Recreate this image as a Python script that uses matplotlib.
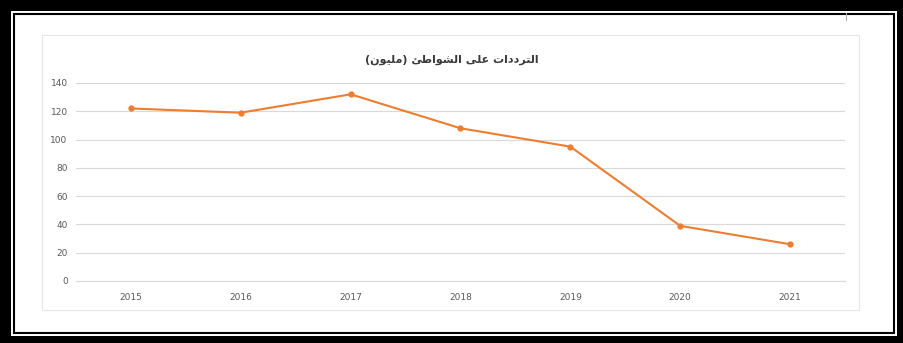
import matplotlib
matplotlib.use("Agg")
import matplotlib.pyplot as plt
from matplotlib.patches import Rectangle
from matplotlib.lines import Line2D

# ---- data ----
years = ["2015", "2016", "2017", "2018", "2019", "2020", "2021"]
visits = [122, 119, 132, 108, 95, 39, 26]
y_ticks = [0, 20, 40, 60, 80, 100, 120, 140]
title = "الترددات على الشواطئ (مليون)"

# ---- minimal Arabic shaping (contextual forms + visual order) ----
FORMS = {
    "ا": ("\uFE8D", "\uFE8E", None, None),
    "ل": ("\uFEDD", "\uFEDE", "\uFEDF", "\uFEE0"),
    "ت": ("\uFE95", "\uFE96", "\uFE97", "\uFE98"),
    "ر": ("\uFEAD", "\uFEAE", None, None),
    "د": ("\uFEA9", "\uFEAA", None, None),
    "ع": ("\uFEC9", "\uFECA", "\uFECB", "\uFECC"),
    "ى": ("\uFEEF", "\uFEF0", None, None),
    "ش": ("\uFEB5", "\uFEB6", "\uFEB7", "\uFEB8"),
    "و": ("\uFEED", "\uFEEE", None, None),
    "ط": ("\uFEC1", "\uFEC2", "\uFEC3", "\uFEC4"),
    "ئ": ("\uFE89", "\uFE8A", "\uFE8B", "\uFE8C"),
    "م": ("\uFEE1", "\uFEE2", "\uFEE3", "\uFEE4"),
    "ي": ("\uFEF1", "\uFEF2", "\uFEF3", "\uFEF4"),
    "ن": ("\uFEE5", "\uFEE6", "\uFEE7", "\uFEE8"),
}
MIRROR = {"(": ")", ")": "("}


def shape(text):
    out = []
    n = len(text)
    for i, ch in enumerate(text):
        if ch not in FORMS:
            out.append(MIRROR.get(ch, ch))
            continue
        iso, fin, ini, med = FORMS[ch]
        prev = text[i - 1] if i > 0 else ""
        nxt = text[i + 1] if i + 1 < n else ""
        joins_prev = prev in FORMS and FORMS[prev][2] is not None
        joins_next = nxt in FORMS and ini is not None
        if joins_prev and joins_next:
            out.append(med)
        elif joins_prev:
            out.append(fin)
        elif joins_next:
            out.append(ini)
        else:
            out.append(iso)
    return "".join(reversed(out))


W, H = 904, 343
fig = plt.figure(figsize=(W / 100, H / 100), dpi=100, facecolor="black")


def px_rect(x0, y0, x1, y1, **kw):
    # rectangle given in pixel coords measured from the top-left corner
    return Rectangle((x0 / W, 1 - y1 / H), (x1 - x0) / W, (y1 - y0) / H,
                     transform=fig.transFigure, **kw)


# double black frame
fig.patches.append(px_rect(11, 11, 897, 336, facecolor="white", edgecolor="none", zorder=0))
fig.patches.append(px_rect(13.7, 13.7, 894, 333, facecolor="white",
                           edgecolor="black", linewidth=1.5, zorder=1))
# chart area outline
fig.patches.append(px_rect(42, 35, 859, 310, facecolor="white",
                           edgecolor="#e6e6e6", linewidth=0.8, zorder=2))
# small stray mark near the top right
fig.lines.append(Line2D([846 / W, 846 / W], [1 - 13 / H, 1 - 20 / H],
                        transform=fig.transFigure, color="#b0b0b0", linewidth=0.8))

ax = fig.add_axes([76 / W, (H - 281) / H, 769 / W, 198 / H], zorder=3)
ax.set_facecolor("none")

x = list(range(len(years)))
ax.plot(x, visits, color="#ED7D31", linewidth=1.5, marker="o",
        markersize=3.5, markerfacecolor="#ED7D31", markeredgecolor="#ED7D31",
        zorder=3, solid_joinstyle="round")

ax.set_xlim(-0.5, len(years) - 0.5)
ax.set_ylim(0, 140)
ax.set_yticks(y_ticks)
ax.set_yticklabels([str(v) for v in y_ticks])
ax.set_xticks(x)
ax.set_xticklabels(years)

ax.grid(axis="y", color="#d9d9d9", linewidth=0.8)
ax.set_axisbelow(True)
for side in ("top", "right", "left"):
    ax.spines[side].set_visible(False)
ax.spines["bottom"].set_color("#d9d9d9")
ax.spines["bottom"].set_linewidth(0.8)
ax.tick_params(axis="both", length=0, colors="#595959", labelsize=6.5)
ax.tick_params(axis="y", pad=6)
ax.tick_params(axis="x", pad=9)
for lbl in ax.get_xticklabels() + ax.get_yticklabels():
    lbl.set_family(["Liberation Sans Narrow", "DejaVu Sans"])

fig.text(452 / W, 1 - 60 / H, shape(title), ha="center", va="center",
         fontsize=8, fontweight="bold", color="#3a3a3a",
         family=["DejaVu Sans"])

fig.savefig("out.png", dpi=100, facecolor="black")
